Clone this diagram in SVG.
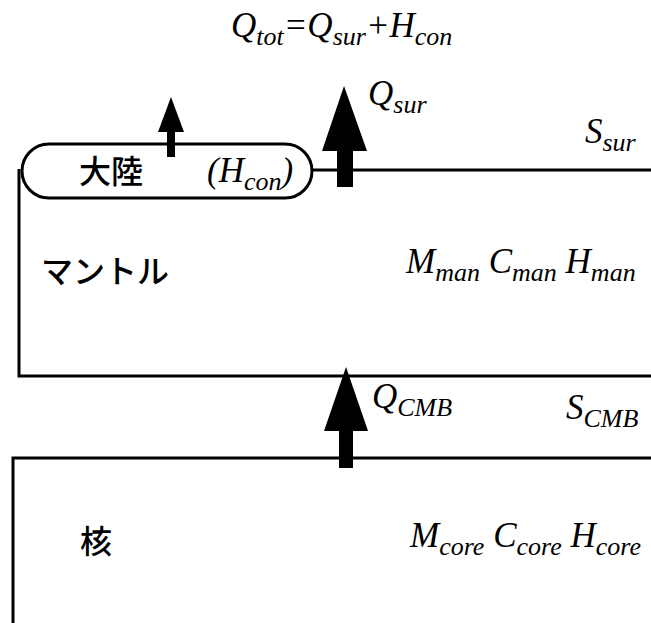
<svg xmlns="http://www.w3.org/2000/svg" width="651" height="623" viewBox="0 0 651 623">
<style>
.ln{fill:none;stroke:#000;stroke-width:3}
.ar{fill:#000;stroke:none}
.m{font-family:"Liberation Serif","Times New Roman",serif;font-style:italic;font-size:35px;fill:#000}
.s{font-size:26px}
.jp{font-family:"Noto Sans CJK JP","Noto Sans",sans-serif;font-size:32px;font-weight:500;fill:#000}
</style>
<rect width="651" height="623" fill="#fff"/>
<g id="formula"><text class="m" x="231" y="37">Q<tspan class="s" dy="8">tot</tspan><tspan dy="-8">=Q</tspan><tspan class="s" dy="8">sur</tspan><tspan dy="-8">+H</tspan><tspan class="s" dy="8">con</tspan></text></g>
<g id="continent">
<rect class="ln" x="22" y="144" width="290" height="54" rx="27" ry="27"/>
<text class="jp" x="79" y="183">大陸</text>
<text class="m" x="207" y="182">(H<tspan class="s" dy="8">con</tspan><tspan dy="-8">)</tspan></text>
</g>
<g id="mantle">
<path class="ln" d="M19,169 V376 H651"/>
<path class="ln" d="M312,170 H651"/>
<text class="jp" x="41" y="283">マントル</text>
<text class="m" x="406" y="273">M<tspan class="s" dy="8">man</tspan><tspan dy="-8"> C</tspan><tspan class="s" dy="8">man</tspan><tspan dy="-8"> H</tspan><tspan class="s" dy="8">man</tspan></text>
<text class="m" x="585" y="143">S<tspan class="s" dy="8">sur</tspan></text>
</g>
<g id="core">
<path class="ln" d="M13,623 V458 H651"/>
<text class="jp" x="80" y="553">核</text>
<text class="m" x="410" y="547">M<tspan class="s" dy="8">core</tspan><tspan dy="-8"> C</tspan><tspan class="s" dy="8">core</tspan><tspan dy="-8"> H</tspan><tspan class="s" dy="8">core</tspan></text>
<text class="m" x="566" y="419">S<tspan class="s" dy="8">CMB</tspan></text>
</g>
<g id="connectors">
<polygon class="ar" points="171,97 184,132 158,132"/>
<rect class="ar" x="167" y="131" width="8" height="26"/>
<polygon class="ar" points="344,86 367,151 322,151"/>
<rect class="ar" x="337" y="150" width="16" height="37"/>
<polygon class="ar" points="346,367 368,431 324,431"/>
<rect class="ar" x="339" y="430" width="14" height="38"/>
<text class="m" x="368" y="105">Q<tspan class="s" dy="8">sur</tspan></text>
<text class="m" x="372" y="408">Q<tspan class="s" dy="8">CMB</tspan></text>
</g>
</svg>
